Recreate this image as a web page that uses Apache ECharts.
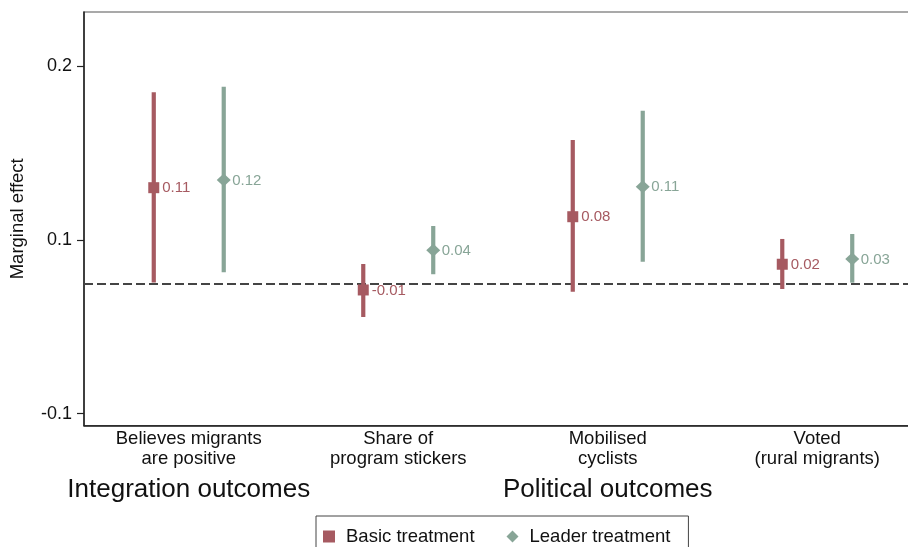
<!DOCTYPE html>
<html>
<head>
<meta charset="utf-8">
<script src="https://cdn.jsdelivr.net/npm/echarts@6/dist/echarts.min.js"></script>
<style>
  html, body { margin: 0; padding: 0; background: #fff; }
  #chart { width: 908px; height: 547px; }
</style>
</head>
<body>
<div id="chart"></div>
<script>
// ---- Data ----
const categories = ['Believes migrants\nare positive', 'Share of\nprogram stickers', 'Mobilised\ncyclists', 'Voted\n(rural migrants)'];
const groupLabels = ['Integration outcomes', '', 'Political outcomes', ''];

const basicEst  = [0.110, -0.0077, 0.0766, 0.0219];
const basicLo   = [0.001, -0.0388, -0.0097, -0.0066];
const basicHi   = [0.2198, 0.0222, 0.1649, 0.0510];

const leaderEst = [0.1189, 0.038, 0.1112, 0.028];
const leaderLo  = [0.0127, 0.0104, 0.0249, 0.0007];
const leaderHi  = [0.2262, 0.0659, 0.1986, 0.0567];

const yTickValues = [-0.15, 0.05, 0.25];
const yTickLabels = ['-0.1', '0.1', '0.2'];
const referenceLine = 0;

// ---- Style ----
const FONT = '"Liberation Sans", Arial, Helvetica, sans-serif';
const BASIC_COLOR = '#a65a61';
const LEADER_COLOR = '#88a597';

function buildData(est, lo, hi) {
  return est.map((v, i) => [i, v, lo[i], hi[i]]);
}

function makeRender(offsetFrac, shape, color) {
  return function (params, api) {
    const xi = api.value(0), est = api.value(1), lo = api.value(2), hi = api.value(3);
    const band = api.size([1, 0])[0];
    const pE = api.coord([xi, est]);
    const pL = api.coord([xi, lo]);
    const pH = api.coord([xi, hi]);
    const x = pE[0] + offsetFrac * band;
    const children = [
      { type: 'line', shape: { x1: x, y1: pL[1], x2: x, y2: pH[1] },
        style: { stroke: color, lineWidth: 4.2 } }
    ];
    if (shape === 'square') {
      children.push({ type: 'rect', shape: { x: x - 5.5, y: pE[1] - 5.5, width: 11, height: 11 },
        style: { fill: color } });
    } else {
      children.push({ type: 'polygon', shape: { points: [[x, pE[1] - 6.5], [x + 7, pE[1]], [x, pE[1] + 6.5], [x - 7, pE[1]]] },
        style: { fill: color } });
    }
    children.push({ type: 'text', x: x + 8.5, y: pE[1] + 0.5,
      style: { text: est.toFixed(2), fill: color, font: '15px ' + FONT,
               textAlign: 'left', textVerticalAlign: 'middle' } });
    return { type: 'group', children };
  };
}

const chart = echarts.init(document.getElementById('chart'), null, { renderer: 'canvas' });

chart.setOption({
  animation: false,
  backgroundColor: '#ffffff',
  textStyle: { fontFamily: FONT },
  grid: {
    left: 84, top: 12, right: -14, bottom: 121.4,
    outerBoundsMode: 'none', containLabel: false,
    show: true, borderColor: '#555', borderWidth: 1.2, backgroundColor: '#fff'
  },
  legend: {
    left: 316, top: 516,
    padding: [11, 18, 11, 7],
    itemGap: 32,
    itemWidth: 12, itemHeight: 12,
    borderColor: '#444', borderWidth: 1,
    textStyle: { fontFamily: FONT, fontSize: 18.5, color: '#111', padding: [0, 0, 0, 6] },
    data: [{ name: 'Basic treatment', icon: 'rect' }, { name: 'Leader treatment', icon: 'diamond' }]
  },
  xAxis: [
    {
      type: 'category', data: categories, boundaryGap: true,
      axisLine: { show: true, onZero: false, lineStyle: { color: '#222', width: 1.5 } },
      axisTick: { show: false },
      axisLabel: { fontFamily: FONT, fontSize: 18.5, color: '#111', lineHeight: 19.5, margin: 4, interval: 0 },
      splitLine: { show: false }
    },
    {
      type: 'category', data: groupLabels, boundaryGap: true, position: 'bottom',
      axisLine: { show: false, onZero: false }, axisTick: { show: false },
      axisLabel: { fontFamily: FONT, fontSize: 26, color: '#111', margin: 51, interval: 0 },
      splitLine: { show: false }
    }
  ],
  yAxis: {
    type: 'value', min: -0.1638, max: 0.3122,
    axisLine: { show: true, onZero: false, lineStyle: { color: '#222', width: 1.5 } },
    axisTick: { show: true, length: 7, customValues: yTickValues, lineStyle: { color: '#222', width: 1.2 } },
    axisLabel: {
      customValues: yTickValues, fontFamily: FONT, fontSize: 18, color: '#111', margin: 12,
      formatter: function (v) {
        let best = 0;
        for (let i = 1; i < yTickValues.length; i++) {
          if (Math.abs(yTickValues[i] - v) < Math.abs(yTickValues[best] - v)) best = i;
        }
        return yTickLabels[best];
      }
    },
    splitLine: { show: false },
    name: 'Marginal effect', nameLocation: 'middle', nameGap: 57, nameRotate: 90,
    nameTextStyle: { fontFamily: FONT, fontSize: 18.5, color: '#111' }
  },
  series: [
    {
      name: 'zero', type: 'line', data: [], z: 1, silent: true,
      markLine: {
        silent: true, symbol: ['none', 'none'], label: { show: false },
        lineStyle: { color: '#444', type: [9, 4], width: 2 },
        data: [{ yAxis: referenceLine }]
      }
    },
    {
      name: 'Basic treatment', type: 'custom', xAxisIndex: 0,
      itemStyle: { color: BASIC_COLOR },
      renderItem: makeRender(-0.167, 'square', BASIC_COLOR),
      encode: { x: 0, y: [1, 2, 3] },
      data: buildData(basicEst, basicLo, basicHi),
      z: 5
    },
    {
      name: 'Leader treatment', type: 'custom', xAxisIndex: 0,
      itemStyle: { color: LEADER_COLOR },
      renderItem: makeRender(0.167, 'diamond', LEADER_COLOR),
      encode: { x: 0, y: [1, 2, 3] },
      data: buildData(leaderEst, leaderLo, leaderHi),
      z: 5
    }
  ]
});
</script>
</body>
</html>
